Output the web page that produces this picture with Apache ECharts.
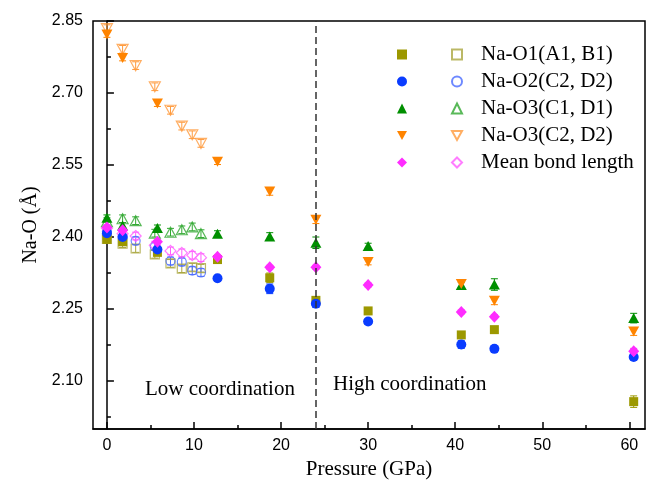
<!DOCTYPE html>
<html>
<head>
<meta charset="utf-8">
<script src="https://cdn.jsdelivr.net/npm/echarts@6/dist/echarts.min.js"></script>
<style>
  html, body { margin: 0; padding: 0; background: #fff; }
  #chart { width: 646px; height: 487px; }
</style>
</head>
<body>
<div id="chart"></div>
<script>
// Series labels (shared by the solid and open symbol sets)
const seriesLabels = ['Na-O1(A1, B1)', 'Na-O2(C2, D2)', 'Na-O3(C1, D1)', 'Na-O3(C2, D2)', 'Mean bond length'];

// Solid symbols: pressure (GPa) and Na-O distances (Å)
const pressureSolid = [0, 1.8, 5.8, 12.7, 18.7, 24, 30, 40.7, 44.5, 60.5];
const naO1Solid  = [2.395, 2.390, 2.368, 2.353, 2.315, 2.268, 2.246, 2.196, 2.207, 2.057];
const naO2Solid  = [2.408, 2.400, 2.374, 2.314, 2.292, 2.261, 2.224, 2.176, 2.167, 2.150];
const naO3aSolid = [2.440, 2.424, 2.419, 2.407, 2.401, 2.388, 2.381, 2.300, 2.301, 2.231];
const naO3bSolid = [2.822, 2.773, 2.678, 2.557, 2.495, 2.436, 2.348, 2.302, 2.267, 2.203];
const meanSolid  = [2.420, 2.414, 2.390, 2.359, 2.337, 2.337, 2.300, 2.244, 2.234, 2.162];

// Error half-widths for the solid symbols
const errO1Solid  = [0.006, 0.006, 0.006, 0.006, 0.010, 0.006, 0.006, 0.006, 0.006, 0.012];
const errO2Solid  = [0.006, 0.006, 0.006, 0.006, 0.010, 0.008, 0.006, 0.008, 0.006, 0.006];
const errO3aSolid = [0.006, 0.006, 0.006, 0.006, 0.008, 0.012, 0.006, 0.006, 0.012, 0.010];
const errO3bSolid = [0.006, 0.006, 0.006, 0.006, 0.008, 0.008, 0.006, 0.008, 0.008, 0.008];
const errMeanSolid = [0.004, 0.004, 0.004, 0.004, 0.004, 0.004, 0.004, 0.004, 0.004, 0.006];

// Open symbols: pressure (GPa) and Na-O distances (Å)
const pressureOpen = [0, 1.8, 3.3, 5.5, 7.3, 8.6, 9.8, 10.8];
const naO1Open  = [2.396, 2.386, 2.376, 2.364, 2.345, 2.334, 2.337, 2.335];
const naO2Open  = [2.412, 2.400, 2.392, 2.380, 2.350, 2.348, 2.330, 2.326];
const naO3aOpen = [2.432, 2.438, 2.434, 2.408, 2.410, 2.415, 2.421, 2.407];
const naO3bOpen = [2.834, 2.791, 2.757, 2.713, 2.664, 2.631, 2.613, 2.595];
const meanOpen  = [2.418, 2.407, 2.402, 2.383, 2.371, 2.367, 2.362, 2.357];

// Error half-widths for the open symbols
const errOpen = [0.008, 0.008, 0.008, 0.008, 0.008, 0.008, 0.008, 0.008];

// Axis ticks
const xTickLabels = [0, 10, 20, 30, 40, 50, 60];
const xMinorTicks = [5, 15, 25, 35, 45, 55];
const yTickLabels = [2.10, 2.25, 2.40, 2.55, 2.70, 2.85];
const yMinorTicks = [2.025, 2.175, 2.325, 2.475, 2.625, 2.775];

// Coordination boundary (GPa)
const boundaryPressure = 24;

const solidColors = ['#9c9800', '#0a3cff', '#008f00', '#ff8400', '#ff2cff'];
const openColors  = ['#aaa640', '#4a6cff', '#30a830', '#ff9a3c', '#ff5cff'];
const downTriangle = 'path://M0,0 L10,0 L5,9 Z';
const symbols = ['rect', 'circle', 'triangle', downTriangle, 'diamond'];
const solidSizes = [[9, 9], [10, 10], [11, 10], [11, 10], [11, 12]];
const openSizes  = [[9, 9], [9, 9], [11, 10], [11, 10], [11, 11]];

const solidValues = [naO1Solid, naO2Solid, naO3aSolid, naO3bSolid, meanSolid];
const solidErrors = [errO1Solid, errO2Solid, errO3aSolid, errO3bSolid, errMeanSolid];
const openValues  = [naO1Open, naO2Open, naO3aOpen, naO3bOpen, meanOpen];

const openSuffix = ' (open)';

function pairs(xs, ys) { return xs.map((x, i) => [x, ys[i]]); }
function triples(xs, ys, es) { return xs.map((x, i) => [x, ys[i], es[i]]); }

function renderErrorBar(params, api) {
  const x = api.value(0), y = api.value(1), e = api.value(2);
  const top = api.coord([x, y + e]);
  const bot = api.coord([x, y - e]);
  const cap = 3.5;
  const style = { stroke: api.visual('color'), lineWidth: 1 };
  return {
    type: 'group',
    children: [
      { type: 'line', shape: { x1: top[0], y1: top[1], x2: bot[0], y2: bot[1] }, style },
      { type: 'line', shape: { x1: top[0] - cap, y1: top[1], x2: top[0] + cap, y2: top[1] }, style },
      { type: 'line', shape: { x1: bot[0] - cap, y1: bot[1], x2: bot[0] + cap, y2: bot[1] }, style }
    ]
  };
}

const series = [];

// error bars first so markers sit on top
solidValues.forEach((vals, i) => {
  series.push({
    type: 'custom', name: 'err-solid-' + i, renderItem: renderErrorBar,
    itemStyle: { color: solidColors[i] }, silent: true, z: 1,
    data: triples(pressureSolid, vals, solidErrors[i])
  });
});
openValues.forEach((vals, i) => {
  series.push({
    type: 'custom', name: 'err-open-' + i, renderItem: renderErrorBar,
    itemStyle: { color: openColors[i] }, silent: true, z: 1,
    data: triples(pressureOpen, vals, errOpen)
  });
});

openValues.forEach((vals, i) => {
  series.push({
    type: 'scatter', name: seriesLabels[i] + openSuffix,
    symbol: symbols[i], symbolSize: openSizes[i], symbolKeepAspect: false, z: 2,
    itemStyle: { color: 'rgba(255,255,255,0)', borderColor: openColors[i], borderWidth: 1.2 },
    data: pairs(pressureOpen, vals)
  });
});

solidValues.forEach((vals, i) => {
  series.push({
    type: 'scatter', name: seriesLabels[i],
    symbol: symbols[i], symbolSize: solidSizes[i], symbolKeepAspect: false, z: 3,
    itemStyle: { color: solidColors[i], opacity: 1 },
    data: pairs(pressureSolid, vals)
  });
});

// vertical dashed boundary
series.push({
  type: 'line', name: 'boundary', data: [], silent: true,
  markLine: {
    symbol: ['none', 'none'], silent: true, label: { show: false },
    lineStyle: { color: '#333', width: 1.5, type: [7, 4] },
    data: [{ xAxis: boundaryPressure }]
  }
});

const serif = '"Liberation Serif", "Times New Roman", serif';
const sans = '"Liberation Sans", Arial, sans-serif';

const baseAxisLine = { show: true, lineStyle: { color: '#000', width: 1.5 } };

const legendText = { fontFamily: serif, fontSize: 21, lineHeight: 27, color: '#000' };

function legendItems(suffix) {
  return seriesLabels.map((s, i) => ({ name: s + suffix, icon: symbols[i] }));
}

const chart = echarts.init(document.getElementById('chart'), null, { renderer: 'canvas' });
chart.setOption({
  animation: false,
  backgroundColor: '#fff',
  grid: { left: 93, top: 21, right: 1, bottom: 58, show: true, borderColor: '#000', borderWidth: 1.5 },
  xAxis: [{
    type: 'value', min: -1.6, max: 61.8,
    name: 'Pressure (GPa)', nameLocation: 'middle', nameGap: 28,
    nameTextStyle: { fontFamily: serif, fontSize: 21, color: '#000' },
    axisLine: baseAxisLine,
    axisTick: { inside: true, length: 7, lineStyle: { color: '#000', width: 1.5 }, customValues: xTickLabels },
    axisLabel: { customValues: xTickLabels, fontFamily: sans, fontSize: 16, color: '#000', margin: 9 },
    splitLine: { show: false }
  }, {
    type: 'value', min: -1.6, max: 61.8, position: 'bottom',
    axisLine: { show: false },
    axisTick: { inside: true, length: 4, lineStyle: { color: '#000', width: 1.5 }, customValues: xMinorTicks },
    axisLabel: { show: false },
    splitLine: { show: false }
  }],
  yAxis: [{
    type: 'value', min: 2.0, max: 2.85,
    name: 'Na-O (Å)', nameLocation: 'middle', nameGap: 48,
    nameTextStyle: { fontFamily: serif, fontSize: 20, color: '#000' },
    axisLine: baseAxisLine,
    axisTick: { inside: true, length: 7, lineStyle: { color: '#000', width: 1.5 }, customValues: yTickLabels },
    axisLabel: { customValues: yTickLabels, fontFamily: sans, fontSize: 16, color: '#000', margin: 10,
                 formatter: v => Number(v).toFixed(2) },
    splitLine: { show: false }
  }, {
    type: 'value', min: 2.0, max: 2.85, position: 'left',
    axisLine: { show: false },
    axisTick: { inside: true, length: 4, lineStyle: { color: '#000', width: 1.5 }, customValues: yMinorTicks },
    axisLabel: { show: false },
    splitLine: { show: false }
  }],
  legend: [{
    orient: 'vertical', left: 397, top: 41, padding: 0, itemGap: 0,
    itemWidth: 10, itemHeight: 10, selectedMode: false,
    data: legendItems(''),
    formatter: () => ' ',
    textStyle: legendText
  }, {
    orient: 'vertical', left: 451, top: 41, padding: 0, itemGap: 0,
    itemWidth: 10, itemHeight: 10, selectedMode: false,
    data: legendItems(openSuffix),
    formatter: name => name.replace(openSuffix, ''),
    textStyle: Object.assign({ padding: [0, 0, 0, 14] }, legendText)
  }],
  graphic: [
    { type: 'text', left: 145, top: 379, style: { text: 'Low coordination', font: '21px ' + serif, fill: '#000' } },
    { type: 'text', left: 333, top: 374, style: { text: 'High coordination', font: '21px ' + serif, fill: '#000' } }
  ],
  series
});
</script>
</body>
</html>
